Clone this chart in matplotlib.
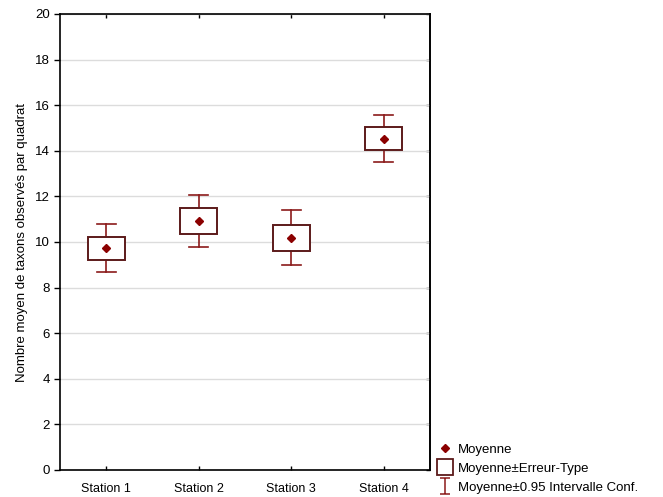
import matplotlib
matplotlib.use("Agg")
import matplotlib.pyplot as plt
from matplotlib.lines import Line2D
from matplotlib.path import Path
from matplotlib.patches import Rectangle

plt.rcParams['font.family'] = ['Liberation Sans', 'DejaVu Sans']

stations = ["Station 1", "Station 2", "Station 3", "Station 4"]
means = [9.74, 10.92, 10.18, 14.52]
se_low = [9.21, 10.35, 9.61, 14.04]
se_high = [10.22, 11.49, 10.75, 15.04]
ci_low = [8.68, 9.78, 8.99, 13.51]
ci_high = [10.79, 12.06, 11.40, 15.57]
yticks = [0, 2, 4, 6, 8, 10, 12, 14, 16, 18, 20]

box_col = "#5c1a1a"
err_col = "#8b1a1a"
mean_col = "#8b0000"

fig = plt.figure(figsize=(6.63, 4.97), dpi=100)
ax = fig.add_axes([60/663, 1-470/497, 370/663, 456/497])

xs = list(range(1, len(stations)+1))
box_w = 0.40
cap_w = 0.21
for x, m, sl, sh, cl, ch in zip(xs, means, se_low, se_high, ci_low, ci_high):
    ax.plot([x, x], [sh, ch], color=err_col, lw=1.2, zorder=3)
    ax.plot([x, x], [cl, sl], color=err_col, lw=1.2, zorder=3)
    ax.plot([x-cap_w/2, x+cap_w/2], [ch, ch], color=err_col, lw=1.2, zorder=3)
    ax.plot([x-cap_w/2, x+cap_w/2], [cl, cl], color=err_col, lw=1.2, zorder=3)
    ax.add_patch(Rectangle((x-box_w/2, sl), box_w, sh-sl, facecolor="white",
                           edgecolor=box_col, lw=1.4, zorder=4))
ax.plot(xs, means, linestyle="none", marker="D", markersize=4.5,
        color=mean_col, zorder=5)

ax.set_xlim(0.5, 4.5)
ax.set_ylim(0, 20)
ax.set_yticks(yticks)
ax.set_xticks(xs)
ax.set_xticklabels(stations, fontsize=9)
ax.tick_params(axis='y', labelsize=9.5, direction='out', length=4, width=1)
ax.tick_params(axis='x', direction='in', length=3, width=1, pad=9, top=True)
ax.yaxis.grid(True, color="#dcdcdc", lw=1)
ax.set_axisbelow(True)
# inward right-side ticks
ax2 = ax.secondary_yaxis('right')
ax2.set_yticks(yticks)
ax2.tick_params(direction='in', length=3, width=1, labelright=False)
ax2.spines['right'].set_linewidth(1.2)
for s in ax.spines.values():
    s.set_linewidth(1.2)
ax.set_ylabel("Nombre moyen de taxons observés par quadrat", fontsize=9.5, labelpad=5)

ibar = Path([(-0.6, 1), (0.6, 1), (0, 1), (0, -1), (-0.6, -1), (0.6, -1)],
            [Path.MOVETO, Path.LINETO, Path.MOVETO, Path.LINETO, Path.MOVETO, Path.LINETO])
handles = [
    Line2D([], [], linestyle="none", marker="D", markersize=4, color=mean_col),
    Line2D([], [], linestyle="none", marker="s", markersize=12, markerfacecolor="white",
           markeredgecolor=box_col, markeredgewidth=1.3),
    Line2D([], [], linestyle="none", marker=ibar, markersize=11, color=err_col,
           markeredgewidth=1.1, markerfacecolor="none"),
]
labels = ["Moyenne", "Moyenne±Erreur-Type", "Moyenne±0.95 Intervalle Conf."]
fig.legend(handles, labels, loc="lower left", bbox_to_anchor=(429/663, -0.012),
           frameon=False, fontsize=9.5, handlelength=1.0, handletextpad=0.5,
           labelspacing=0.5, borderpad=0.2)

fig.savefig("out.png", dpi=100)
